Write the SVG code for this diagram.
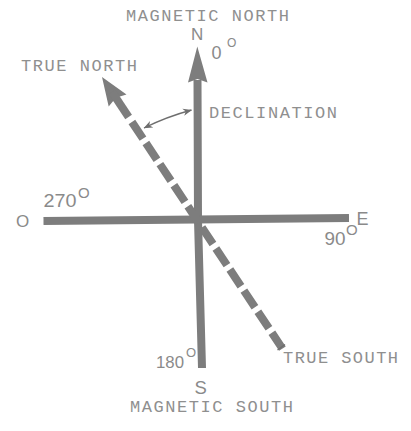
<svg xmlns="http://www.w3.org/2000/svg" width="411" height="431" viewBox="0 0 411 431">
<defs>
<style>
.mono{font-family:"Liberation Mono","Courier New",monospace;font-size:17px;fill:#8f8f8f}
.sans{font-family:"Liberation Sans",Arial,sans-serif;fill:#8a8a8a}
.bar{stroke:#7d7d7d;fill:none;stroke-width:8}
.head{fill:#7d7d7d}
.thin{stroke:#6e6e6e;stroke-width:1.3;fill:none}
</style>
<marker id="ah" viewBox="0 0 10 10" refX="9.5" refY="5" markerWidth="9" markerHeight="9" markerUnits="userSpaceOnUse" orient="auto-start-reverse">
<path d="M0,1 L10,5 L0,9 L3,5 Z" fill="#6e6e6e"/>
</marker>
</defs>
<rect width="411" height="431" fill="#ffffff"/>
<g id="connectors">
<path class="bar" d="M197.5 80 L198 220 L202 368"/>
<polygon class="head" points="197.3,46.5 207.5,82.5 197.5,79 188,82.5"/>
<line class="bar" x1="43.5" y1="221" x2="349" y2="218"/>
<polygon class="head" points="102,77 126.5,94.5 115.8,97.8 108.7,106.5"/>
<line class="bar" x1="112" y1="92" x2="128.6" y2="117"/>
<line class="bar" x1="131.9" y1="122" x2="282.4" y2="348.6" stroke-dasharray="20 5.3"/>
<line class="thin" x1="277.5" y1="350" x2="285" y2="344.5"/>
<path class="thin" d="M144 128 Q166 117 191.5 110" marker-start="url(#ah)" marker-end="url(#ah)"/>
</g>
<g id="magnetic-north">
<text class="mono" x="126" y="21" textLength="163" lengthAdjust="spacing">MAGNETIC NORTH</text>
<text class="sans" x="191" y="40" font-size="17">N</text>
<text class="sans" x="211.5" y="58.5" font-size="18">0</text>
<text class="sans" x="227" y="47" font-size="12">O</text>
</g>
<g id="true-north">
<text class="mono" x="21" y="70.7" textLength="116" lengthAdjust="spacing">TRUE NORTH</text>
</g>
<g id="declination">
<text class="mono" x="209" y="118.3" textLength="128" lengthAdjust="spacing">DECLINATION</text>
</g>
<g id="west">
<text class="sans" x="16" y="227.3" font-size="17">O</text>
<text class="sans" x="43.5" y="206.7" font-size="17.5" textLength="33" lengthAdjust="spacingAndGlyphs">270</text>
<text class="sans" x="78" y="198" font-size="15">O</text>
</g>
<g id="east">
<text class="sans" x="356.5" y="225" font-size="18">E</text>
<text class="sans" x="324.5" y="245" font-size="18" textLength="21" lengthAdjust="spacingAndGlyphs">90</text>
<text class="sans" x="346" y="235" font-size="15">O</text>
</g>
<g id="south">
<text class="sans" x="156" y="368.3" font-size="16.5" textLength="28" lengthAdjust="spacingAndGlyphs">180</text>
<text class="sans" x="186" y="356.7" font-size="13">O</text>
<text class="sans" x="194.5" y="394" font-size="18.5">S</text>
<text class="mono" x="130" y="412.3" textLength="163" lengthAdjust="spacing">MAGNETIC SOUTH</text>
</g>
<g id="true-south">
<text class="mono" x="283" y="362.7" textLength="115" lengthAdjust="spacing">TRUE SOUTH</text>
</g>
</svg>
